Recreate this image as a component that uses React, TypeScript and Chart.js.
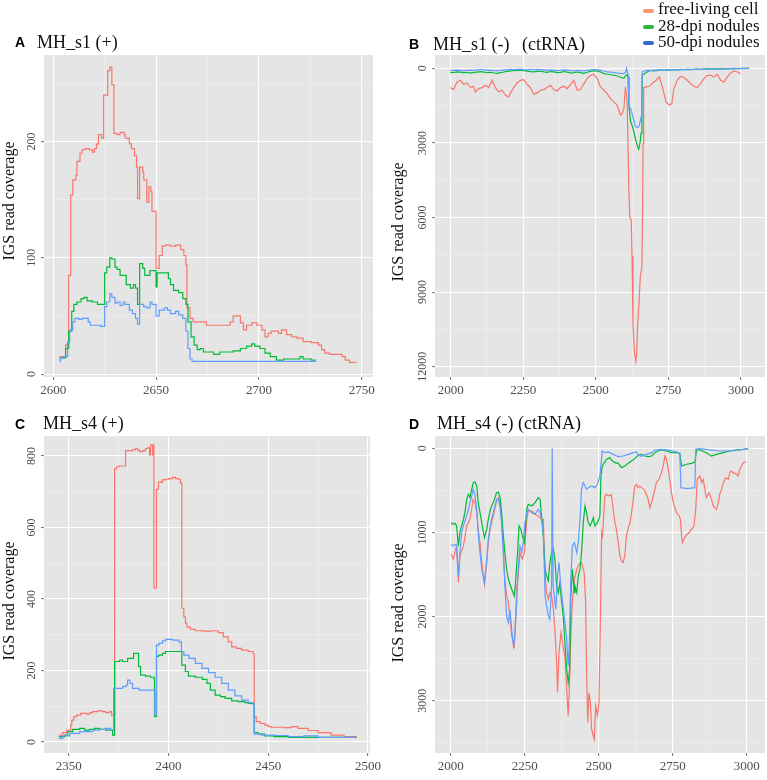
import React, { useEffect, useRef } from 'react';
import { Chart, registerables } from 'chart.js';

Chart.register(...registerables);

const SERIF = '"Liberation Serif", "Times New Roman", serif';
const SANS = '"Liberation Sans", Arial, sans-serif';

const SERIES_NAMES = ['free-living cell', '28-dpi nodules', '50-dpi nodules'];
const LINE_COLORS = ['#F8766D', '#00BA38', '#619CFF'];
const KEY_COLORS = ['#F79A6E', '#2DB83D', '#3A66D0'];
const Y_TITLE = 'IGS read coverage';

// ---------- Panel A: MH_s1 (+) ----------
const aRedPos = [2603, 2606, 2607.5, 2608.5, 2609.5, 2611, 2611.5, 2613, 2614, 2615.5, 2617.5, 2619, 2620, 2621, 2622, 2623.5, 2624.5, 2626.5, 2627.5, 2628.5, 2629.5, 2631, 2632.5, 2634.5, 2635, 2637, 2638, 2639.5, 2640.5, 2641, 2642, 2643.5, 2644, 2645.5, 2646.5, 2647.5, 2648, 2650, 2651.5, 2653, 2654.5, 2657, 2659.5, 2662, 2663.5, 2664.5, 2665, 2666.5, 2668, 2674.5, 2686, 2687.5, 2689.5, 2691, 2692.5, 2694, 2696.5, 2699, 2701.5, 2703, 2704.5, 2706, 2709.5, 2711, 2713.5, 2716, 2718.5, 2721.5, 2725.5, 2729, 2730.5, 2732, 2734.5, 2740.5, 2742, 2744, 2747.5];
const aRedCov = [15, 25, 85, 154, 167, 171, 183, 190, 193, 194, 193, 191, 194, 198, 206, 203, 240, 261, 264, 249, 207, 206, 208, 206, 203, 198, 194, 188, 178, 151, 178, 174, 167, 148, 161, 157, 140, 91, 102, 110, 111, 110, 111, 107, 102, 94, 57, 48, 45, 42, 45, 50, 50, 44, 38, 42, 44, 42, 38, 32, 35, 37, 35, 38, 34, 32, 31, 28, 27, 25, 21, 18, 17, 15, 12, 10, 10];
const aGreenPos = [2603, 2606, 2607.5, 2609, 2610, 2611.5, 2613.5, 2615, 2616.5, 2619, 2621.5, 2625, 2626, 2627.5, 2628.5, 2630, 2631, 2632.5, 2635.5, 2637.5, 2639, 2640, 2641, 2642, 2643.5, 2644.5, 2647, 2650, 2650.5, 2656, 2657, 2658.5, 2661, 2663, 2664.5, 2665.5, 2667, 2668.5, 2670, 2671.5, 2673, 2678, 2681, 2687.5, 2691, 2694, 2696.5, 2698, 2700.5, 2703, 2705.5, 2708.5, 2712, 2720, 2721.5, 2725.5, 2727.5];
const aGreenCov = [14, 22, 37, 54, 60, 62, 65, 66, 63, 62, 60, 87, 92, 100, 99, 92, 90, 85, 77, 74, 77, 74, 60, 95, 91, 85, 89, 75, 87, 82, 77, 72, 70, 65, 60, 45, 32, 25, 21, 22, 19, 17, 19, 20, 22, 24, 26, 24, 22, 18, 15, 12, 13, 15, 13, 12, 12];
const aBluePos = [2603, 2603.5, 2605, 2607, 2608, 2609.5, 2610.5, 2612.5, 2614, 2617, 2618, 2623, 2625, 2626, 2627.5, 2628.5, 2630, 2631, 2632.5, 2634, 2635, 2637, 2638.5, 2640, 2641, 2642, 2644, 2645.5, 2647, 2648, 2650, 2651.5, 2654, 2655.5, 2657, 2659.5, 2661, 2663, 2664.5, 2665.5, 2666.5, 2667.5, 2728];
const aBlueCov = [11, 14, 15, 28, 38, 45, 48, 47, 48, 45, 42, 41, 58, 62, 69, 66, 61, 62, 59, 62, 60, 55, 52, 48, 43, 60, 58, 57, 62, 60, 50, 55, 57, 55, 52, 54, 51, 48, 37, 22, 13, 11, 11];

// ---------- Panel B: MH_s1 (-) (ctRNA) ----------
const bRedPos = [1999, 2010, 2022, 2033, 2045, 2056, 2068, 2079, 2085, 2097, 2108, 2120, 2131, 2143, 2154, 2166, 2177, 2189, 2200, 2206, 2217, 2229, 2240, 2252, 2263, 2275, 2286, 2298, 2309, 2321, 2332, 2344, 2355, 2367, 2378, 2390, 2401, 2413, 2424, 2436, 2447, 2459, 2470, 2482, 2493, 2505, 2516, 2528, 2539, 2551, 2562, 2574, 2585, 2591, 2597, 2602, 2608, 2614, 2617, 2622, 2625, 2628, 2633, 2638, 2641, 2644, 2649, 2653, 2659, 2661, 2663, 2665, 2673, 2685, 2696, 2708, 2719, 2731, 2742, 2754, 2762, 2769, 2781, 2792, 2804, 2815, 2827, 2838, 2850, 2861, 2873, 2884, 2896, 2907, 2919, 2930, 2942, 2953, 2965, 2976, 2988, 2999];
const bRedCov = [776, 856, 549, 482, 642, 589, 776, 722, 950, 816, 776, 682, 776, 482, 776, 950, 883, 1083, 1150, 990, 776, 589, 482, 455, 642, 776, 1043, 990, 883, 856, 776, 682, 856, 910, 776, 722, 816, 642, 482, 883, 856, 615, 415, 281, 241, 415, 749, 883, 1017, 1217, 1351, 1485, 1886, 1819, 1618, 749, 1284, 4892, 5963, 6100, 7567, 10230, 11430, 11777, 11430, 10370, 9430, 8430, 7970, 5963, 3020, 776, 749, 722, 589, 482, 348, 816, 1351, 1485, 1418, 816, 482, 321, 375, 482, 615, 722, 776, 615, 415, 281, 281, 348, 241, 482, 549, 348, 188, 108, 148, 214];
const bGreenPos = [1999, 2010, 2022, 2033, 2045, 2056, 2068, 2079, 2091, 2103, 2114, 2126, 2137, 2149, 2160, 2172, 2183, 2195, 2206, 2218, 2229, 2241, 2252, 2264, 2275, 2287, 2298, 2310, 2321, 2333, 2344, 2356, 2367, 2379, 2390, 2402, 2413, 2425, 2436, 2448, 2459, 2471, 2482, 2494, 2505, 2517, 2528, 2540, 2551, 2563, 2574, 2586, 2597, 2603, 2608, 2611, 2614, 2620, 2625, 2631, 2636, 2644, 2648, 2653, 2656, 2659, 2660, 2665, 2677, 2688, 2700, 2711, 2723, 2734, 2746, 2757, 2769, 2780, 2792, 2803, 2815, 2826, 2838, 2849, 2861, 2872, 2884, 2895, 2907, 2918, 2930, 2941, 2953, 2964, 2976, 2987, 2999, 3010, 3028];
const bGreenCov = [175, 160, 140, 150, 185, 160, 190, 175, 150, 135, 150, 175, 160, 190, 200, 175, 150, 120, 100, 95, 80, 75, 95, 110, 130, 140, 120, 110, 140, 160, 130, 145, 175, 160, 130, 150, 190, 175, 150, 175, 200, 160, 120, 95, 110, 150, 215, 240, 260, 280, 310, 360, 400, 300, 250, 350, 1500, 2150, 2290, 2550, 2820, 3155, 3260, 2955, 2620, 1400, 280, 240, 150, 80, 100, 90, 60, 80, 60, 70, 50, 60, 40, 50, 40, 55, 45, 30, 40, 30, 25, 35, 20, 30, 15, 20, 10, 15, 5, 10, 5, 0, 0];
const bBluePos = [1999, 2010, 2022, 2033, 2045, 2056, 2068, 2079, 2091, 2103, 2114, 2126, 2137, 2149, 2160, 2172, 2183, 2195, 2206, 2218, 2229, 2241, 2252, 2264, 2275, 2287, 2298, 2310, 2321, 2333, 2344, 2356, 2367, 2379, 2390, 2402, 2413, 2425, 2436, 2448, 2459, 2471, 2482, 2494, 2505, 2517, 2528, 2540, 2551, 2563, 2574, 2586, 2597, 2603, 2606, 2609, 2612, 2614, 2620, 2625, 2631, 2636, 2644, 2648, 2653, 2656, 2659, 2660, 2670, 2680, 2690, 2700, 2720, 2740, 2760, 2780, 2800, 2830, 2860, 2890, 2920, 2950, 2980, 3000, 3028];
const bBlueCov = [90, 80, 70, 85, 100, 80, 70, 90, 60, 40, 60, 80, 70, 90, 100, 80, 60, 50, 40, 55, 40, 30, 50, 60, 45, 55, 40, 50, 65, 80, 60, 70, 90, 80, 60, 75, 90, 100, 80, 90, 100, 80, 60, 50, 60, 80, 120, 140, 150, 170, 190, 200, 210, 150, 0, 150, 300, 1550, 1620, 1820, 2090, 2330, 2380, 2350, 2150, 1950, 800, 150, 100, 80, 90, 70, 60, 70, 50, 60, 50, 40, 45, 35, 30, 25, 15, 10, 5];

// ---------- Panel C: MH_s4 (+) ----------
const cRedPos = [2345, 2347, 2349, 2351, 2351.5, 2352.5, 2354, 2356, 2359, 2360.5, 2362, 2364.5, 2367, 2368.5, 2370.5, 2371.5, 2373, 2374, 2375.5, 2378.5, 2380.5, 2382, 2383.5, 2384.5, 2385.5, 2387, 2388.5, 2389.5, 2390.5, 2391, 2392, 2392.3, 2392.7, 2394, 2395, 2396, 2397, 2398.5, 2400, 2402, 2403.5, 2405, 2406, 2406.7, 2407.7, 2408.5, 2409.3, 2411, 2413.5, 2417, 2422, 2425, 2427.5, 2430, 2431.7, 2434, 2436.7, 2440, 2442.5, 2443, 2444, 2446, 2448.3, 2450, 2451.6, 2458, 2461.5, 2465, 2470, 2475, 2481.5, 2488, 2494];
const cRedCov = [19, 26, 33, 47, 61, 71, 75, 80, 78, 82, 85, 87, 85, 82, 85, 75, 764, 770, 772, 815, 815, 817, 821, 817, 812, 815, 821, 823, 803, 831, 803, 831, 430, 707, 728, 726, 733, 735, 737, 740, 737, 735, 725, 374, 350, 332, 321, 315, 311, 310, 311, 306, 294, 280, 266, 262, 257, 253, 246, 71, 57, 52, 47, 43, 41, 40, 43, 38, 32, 26, 19, 15, 10];
const cGreenPos = [2345, 2348, 2349.5, 2352, 2355.5, 2358, 2360.5, 2363, 2365.5, 2368.5, 2371.5, 2372, 2373, 2375.5, 2377, 2379.5, 2382.5, 2385, 2386, 2388.5, 2391, 2392.7, 2393, 2394, 2395, 2397, 2398.5, 2406.7, 2408.5, 2410, 2413.5, 2417, 2419.3, 2421, 2423.4, 2426, 2428.4, 2431.7, 2435, 2438.3, 2440, 2442.5, 2443, 2445, 2448.3, 2453, 2460, 2494];
const cGreenCov = [15, 19, 29, 35, 38, 33, 35, 38, 35, 33, 33, 19, 225, 229, 225, 234, 248, 211, 187, 184, 181, 178, 71, 239, 243, 248, 253, 215, 197, 184, 181, 175, 164, 145, 131, 127, 122, 115, 113, 110, 108, 106, 26, 22, 17, 15, 13, 12];
const cBluePos = [2345, 2347, 2350.5, 2355.5, 2362, 2365.5, 2368.5, 2371, 2372.5, 2377, 2378.7, 2379.5, 2380.7, 2382, 2385.3, 2393.2, 2394, 2395.2, 2397, 2398.6, 2402, 2405.2, 2406.5, 2407.7, 2410.2, 2413.5, 2416.8, 2420.1, 2423.4, 2426.7, 2430, 2433.3, 2436.7, 2440, 2442.5, 2443, 2446.6, 2453.2, 2460, 2468, 2475, 2494];
const cBlueCov = [10, 17, 24, 29, 33, 35, 38, 33, 150, 155, 159, 173, 164, 150, 145, 75, 271, 276, 283, 287, 285, 280, 253, 243, 234, 220, 206, 194, 181, 164, 145, 129, 117, 110, 106, 22, 19, 18, 15, 17, 13, 13];

// ---------- Panel D: MH_s4 (-) (ctRNA) ----------
const dRedPos = [2001, 2009, 2015, 2020, 2026, 2031, 2037, 2043, 2048, 2054, 2065, 2071, 2076, 2082, 2088, 2093, 2099, 2105, 2114, 2122, 2127, 2133, 2138, 2144, 2150, 2155, 2161, 2167, 2172, 2178, 2183, 2189, 2195, 2200, 2206, 2215, 2223, 2228, 2234, 2242, 2249, 2257, 2262, 2274, 2285, 2296, 2307, 2313, 2319, 2324, 2330, 2335, 2341, 2347, 2352, 2358, 2361, 2366, 2373, 2381, 2386, 2392, 2397, 2401, 2406, 2411, 2418, 2426, 2433, 2442, 2451, 2456, 2459, 2463, 2467, 2472, 2476, 2482, 2485, 2490, 2496, 2501, 2505, 2510, 2513, 2521, 2527, 2536, 2543, 2549, 2555, 2560, 2566, 2572, 2577, 2583, 2588, 2594, 2600, 2605, 2611, 2617, 2622, 2628, 2633, 2639, 2645, 2653, 2659, 2667, 2673, 2679, 2684, 2690, 2695, 2704, 2712, 2718, 2724, 2729, 2735, 2740, 2746, 2752, 2763, 2772, 2776, 2780, 2783, 2788, 2794, 2799, 2806, 2814, 2822, 2828, 2833, 2842, 2847, 2853, 2859, 2864, 2873, 2881, 2887, 2892, 2898, 2904, 2909, 2915, 2921, 2930, 2938, 2943, 2949, 2954, 2960, 2966, 2971, 2977, 2983, 2988, 2994, 2999];
const dRedCov = [1260, 1319, 1220, 1161, 1596, 1280, 1220, 1161, 1062, 923, 844, 725, 606, 646, 765, 963, 1121, 1359, 1616, 1359, 1121, 963, 884, 804, 705, 626, 587, 646, 844, 1240, 1557, 1755, 1834, 1992, 2230, 2349, 1676, 1517, 1240, 1319, 1240, 844, 745, 745, 785, 804, 844, 844, 1517, 1715, 1794, 1715, 1755, 1913, 2151, 2547, 2903, 2428, 2190, 2388, 2468, 2864, 3180, 2864, 2230, 1834, 1557, 1438, 1379, 1359, 1478, 1834, 2626, 3260, 2903, 3022, 3339, 3418, 3458, 3062, 3180, 3022, 2230, 1002, 1042, 567, 547, 567, 547, 725, 884, 963, 1121, 1280, 1339, 1359, 1280, 1042, 943, 903, 765, 606, 448, 428, 468, 448, 468, 488, 527, 606, 705, 646, 567, 488, 408, 369, 290, 210, 92, 131, 250, 369, 527, 646, 765, 804, 844, 1042, 1121, 1082, 1042, 1022, 1002, 963, 923, 725, 369, 329, 408, 369, 488, 587, 527, 606, 686, 705, 725, 646, 547, 488, 408, 349, 369, 290, 270, 290, 298, 309, 329, 250, 210, 171, 163, 163];
const dGreenPos = [2001, 2009, 2015, 2020, 2026, 2031, 2037, 2043, 2048, 2054, 2060, 2065, 2071, 2076, 2082, 2088, 2093, 2105, 2114, 2122, 2127, 2133, 2138, 2144, 2150, 2155, 2161, 2167, 2172, 2178, 2183, 2189, 2195, 2206, 2215, 2219, 2226, 2231, 2237, 2242, 2249, 2257, 2262, 2274, 2285, 2296, 2302, 2307, 2313, 2319, 2324, 2330, 2335, 2341, 2347, 2352, 2358, 2364, 2369, 2375, 2381, 2386, 2392, 2397, 2402, 2406, 2411, 2418, 2420, 2426, 2431, 2437, 2442, 2448, 2454, 2459, 2465, 2471, 2476, 2482, 2487, 2496, 2504, 2508, 2510, 2515, 2527, 2538, 2543, 2555, 2566, 2577, 2588, 2600, 2611, 2622, 2633, 2645, 2656, 2667, 2679, 2690, 2701, 2712, 2729, 2746, 2763, 2774, 2780, 2797, 2814, 2825, 2831, 2842, 2864, 2881, 2898, 2921, 2943, 2966, 2988, 3005];
const dGreenCov = [884, 903, 891, 923, 1161, 1002, 923, 844, 765, 606, 547, 587, 488, 408, 400, 448, 646, 884, 1062, 963, 844, 745, 686, 646, 587, 527, 519, 587, 765, 1042, 1240, 1438, 1557, 1676, 1755, 1596, 1240, 923, 963, 1042, 1121, 725, 666, 686, 646, 587, 606, 804, 1042, 1438, 1517, 1577, 1359, 1240, 1200, 1319, 1636, 1715, 1596, 1834, 2032, 2309, 2626, 2784, 2626, 1755, 1438, 1715, 1636, 1715, 1517, 1438, 1240, 884, 686, 765, 884, 923, 884, 824, 923, 884, 804, 290, 250, 190, 131, 111, 139, 171, 179, 230, 210, 179, 151, 123, 84, 72, 92, 100, 92, 52, 32, 20, 32, 52, 52, 60, 210, 190, 179, 163, 20, 20, 52, 92, 72, 52, 32, 20, 12, 4];
const dBluePos = [2001, 2009, 2015, 2020, 2026, 2031, 2037, 2043, 2048, 2054, 2060, 2065, 2071, 2076, 2082, 2088, 2093, 2099, 2105, 2114, 2122, 2127, 2133, 2138, 2144, 2150, 2155, 2161, 2167, 2172, 2178, 2183, 2189, 2195, 2200, 2206, 2212, 2217, 2223, 2228, 2234, 2240, 2245, 2251, 2257, 2262, 2274, 2285, 2296, 2302, 2307, 2313, 2319, 2324, 2330, 2335, 2341, 2343, 2346, 2350, 2355, 2361, 2366, 2373, 2381, 2386, 2392, 2397, 2401, 2406, 2411, 2418, 2426, 2431, 2437, 2442, 2448, 2454, 2459, 2465, 2476, 2487, 2496, 2504, 2508, 2512, 2521, 2532, 2549, 2566, 2583, 2600, 2617, 2628, 2633, 2645, 2662, 2679, 2690, 2707, 2729, 2752, 2769, 2774, 2778, 2797, 2825, 2828, 2842, 2876, 2909, 2943, 2977, 3005];
const dBlueCov = [1141, 1161, 1141, 1161, 1517, 1240, 1002, 923, 864, 804, 725, 646, 567, 488, 547, 725, 1002, 1240, 1438, 1596, 1319, 1082, 943, 844, 765, 686, 606, 606, 705, 884, 1240, 1636, 1992, 2072, 1913, 2151, 2349, 2230, 1834, 1438, 1161, 1240, 1121, 884, 765, 725, 765, 785, 725, 765, 844, 1002, 1755, 1874, 1992, 2032, 1636, 0, 1636, 1755, 1913, 1517, 1359, 1676, 1913, 2072, 2270, 2586, 2309, 1557, 1161, 1121, 1240, 1121, 844, 488, 408, 448, 488, 468, 448, 468, 428, 329, 190, 32, 52, 44, 72, 100, 92, 72, 52, 44, 84, 92, 72, 52, 20, 12, 20, 32, 52, 60, 468, 480, 468, 12, 4, 20, 32, 32, 20, 4];

type Series = { pos: number[]; cov: number[] };
type PanelSpec = {
  left: number; top: number; w: number; h: number;
  padTop: number; padRight: number; yW: number; xH: number;
  xMin: number; xMax: number; xMajor: number;
  yMin: number; yMax: number; yMajor: number; reverse: boolean;
  stepped: boolean; titleX: number; titleY: number;
  series: Series[];
};

const isMajor = (v: number, m: number) => Math.abs(v / m - Math.round(v / m)) < 1e-6;

function makeTicks(min: number, max: number, step: number) {
  const out: { value: number }[] = [];
  for (let k = Math.ceil(min / step); k * step <= max + 1e-9; k++) out.push({ value: k * step });
  return out;
}

const PANELS: PanelSpec[] = [
  {
    left: 0, top: 40, w: 384, h: 370, padTop: 15, padRight: 11, yW: 44, xH: 33,
    xMin: 2595.5, xMax: 2755.5, xMajor: 50, yMin: -2.5, yMax: 274.5, yMajor: 100, reverse: false,
    stepped: true, titleX: 14, titleY: 161,
    series: [{ pos: aRedPos, cov: aRedCov }, { pos: aGreenPos, cov: aGreenCov }, { pos: aBluePos, cov: aBlueCov }],
  },
  {
    left: 384, top: 40, w: 383, h: 370, padTop: 15, padRight: 2, yW: 51, xH: 33,
    xMin: 1946, xMax: 3083, xMajor: 250, yMin: -535, yMax: 12414, yMajor: 3000, reverse: true,
    stepped: false, titleX: 19, titleY: 182,
    series: [{ pos: bRedPos, cov: bRedCov }, { pos: bGreenPos, cov: bGreenCov }, { pos: bBluePos, cov: bBlueCov }],
  },
  {
    left: 0, top: 420, w: 384, h: 360, padTop: 16, padRight: 11, yW: 44, xH: 27,
    xMin: 2337.6, xMax: 2501.1, xMajor: 50, yMin: -31, yMax: 856, yMajor: 200, reverse: false,
    stepped: true, titleX: 14, titleY: 181,
    series: [{ pos: cRedPos, cov: cRedCov }, { pos: cGreenPos, cov: cGreenCov }, { pos: cBluePos, cov: cBlueCov }],
  },
  {
    left: 384, top: 420, w: 383, h: 360, padTop: 16, padRight: 2, yW: 51, xH: 27,
    xMin: 1947, xMax: 3062, xMajor: 250, yMin: -146, yMax: 3622, yMajor: 1000, reverse: true,
    stepped: false, titleX: 19, titleY: 183,
    series: [{ pos: dRedPos, cov: dRedCov }, { pos: dGreenPos, cov: dGreenCov }, { pos: dBluePos, cov: dBlueCov }],
  },
];

const decorPlugin = {
  id: 'panelDecor',
  beforeDraw(chart: any) {
    const { ctx, chartArea: a } = chart;
    ctx.save();
    ctx.fillStyle = '#E5E5E5';
    ctx.fillRect(a.left, a.top, a.right - a.left, a.bottom - a.top);
    ctx.restore();
  },
  afterDraw(chart: any, _a: any, opts: any) {
    const { ctx, chartArea: a } = chart;
    const y = chart.scales.y;
    ctx.save();
    ctx.font = `12px ${SERIF}`;
    ctx.fillStyle = '#4D4D4D';
    ctx.textAlign = 'center';
    ctx.textBaseline = 'middle';
    for (const t of y.ticks) {
      if (!isMajor(t.value, opts.yMajor)) continue;
      const py = y.getPixelForValue(t.value);
      ctx.save();
      ctx.translate(a.left - 12, py);
      ctx.rotate(-Math.PI / 2);
      ctx.fillText(String(t.value), 0, 0);
      ctx.restore();
    }
    ctx.font = `16px ${SERIF}`;
    ctx.fillStyle = '#111111';
    ctx.textBaseline = 'alphabetic';
    ctx.translate(opts.titleX, opts.titleY);
    ctx.rotate(-Math.PI / 2);
    ctx.fillText(Y_TITLE, 0, 0);
    ctx.restore();
  },
};

function gridFor(major: number) {
  return {
    color: (c: any) => (c.tick && isMajor(c.tick.value, major) ? '#FFFFFF' : '#F2F2F2'),
    lineWidth: (c: any) => (c.tick && isMajor(c.tick.value, major) ? 1.1 : 0.5),
    tickColor: (c: any) => (c.tick && isMajor(c.tick.value, major) ? '#7F7F7F' : 'rgba(0,0,0,0)'),
    tickLength: 3,
    drawTicks: true,
  };
}

function Panel({ spec }: { spec: PanelSpec }) {
  const ref = useRef<HTMLCanvasElement | null>(null);
  useEffect(() => {
    if (!ref.current) return;
    const chart = new Chart(ref.current, {
      type: 'line',
      data: {
        datasets: spec.series.map((s, i) => ({
          label: SERIES_NAMES[i],
          data: s.pos.map((p, k) => ({ x: p, y: s.cov[k] })),
          borderColor: LINE_COLORS[i],
          borderWidth: 1.2,
          pointRadius: 0,
          fill: false,
          tension: 0,
          stepped: spec.stepped ? 'before' : false,
          order: 3 - i,
        })),
      } as any,
      options: {
        responsive: false,
        animation: false,
        devicePixelRatio: 1,
        events: [],
        layout: { padding: { top: spec.padTop, right: spec.padRight, left: 0, bottom: 0 } },
        plugins: {
          legend: { display: false },
          tooltip: { enabled: false },
          panelDecor: { yMajor: spec.yMajor, titleX: spec.titleX, titleY: spec.titleY },
        } as any,
        scales: {
          x: {
            type: 'linear',
            min: spec.xMin,
            max: spec.xMax,
            afterBuildTicks: (s: any) => { s.ticks = makeTicks(spec.xMin, spec.xMax, spec.xMajor / 2); },
            afterFit: (s: any) => { s.height = spec.xH; },
            border: { display: false },
            grid: gridFor(spec.xMajor),
            ticks: {
              autoSkip: false,
              maxRotation: 0,
              minRotation: 0,
              padding: 3,
              color: '#4D4D4D',
              font: { family: SERIF, size: 13 },
              callback: (v: any) => (isMajor(Number(v), spec.xMajor) ? String(v) : ''),
            },
          },
          y: {
            type: 'linear',
            min: spec.yMin,
            max: spec.yMax,
            reverse: spec.reverse,
            afterBuildTicks: (s: any) => { s.ticks = makeTicks(spec.yMin, spec.yMax, spec.yMajor / 2); },
            afterFit: (s: any) => { s.width = spec.yW; },
            border: { display: false },
            grid: gridFor(spec.yMajor),
            ticks: { display: false },
          },
        } as any,
      },
      plugins: [decorPlugin as any],
    });
    return () => chart.destroy();
  }, [spec]);
  return (
    <canvas
      ref={ref}
      width={spec.w}
      height={spec.h}
      style={{ position: 'absolute', left: spec.left, top: spec.top, width: spec.w, height: spec.h }}
    />
  );
}

const letterStyle = (left: number, top: number): React.CSSProperties => ({
  position: 'absolute', left, top, font: `bold 14px ${SANS}`, lineHeight: '14px', color: '#000', whiteSpace: 'pre',
});
const titleStyle = (left: number, top: number): React.CSSProperties => ({
  position: 'absolute', left, top, font: `18px ${SERIF}`, lineHeight: '18px', color: '#111', whiteSpace: 'pre',
});

export default function App() {
  return (
    <div style={{ position: 'absolute', left: 0, top: 0, width: 767, height: 780, background: '#FFFFFF', overflow: 'hidden' }}>
      {PANELS.map((p, i) => <Panel key={i} spec={p} />)}
      <div style={letterStyle(15, 35)}>A</div>
      <div style={titleStyle(37, 32.6)}>MH_s1 (+)</div>
      <div style={letterStyle(409, 36.5)}>B</div>
      <div style={titleStyle(433, 35)}>MH_s1 (-)</div>
      <div style={titleStyle(522, 35)}>(ctRNA)</div>
      <div style={letterStyle(15, 416.5)}>C</div>
      <div style={titleStyle(43, 414)}>MH_s4 (+)</div>
      <div style={letterStyle(409, 416.5)}>D</div>
      <div style={titleStyle(437, 414.3)}>MH_s4 (-) (ctRNA)</div>
      {SERIES_NAMES.map((name, i) => (
        <React.Fragment key={name}>
          <div style={{ position: 'absolute', left: 643, top: [9, 24.5, 41][i], width: 11, height: 4, borderRadius: 2, background: KEY_COLORS[i] }} />
          <div style={{ position: 'absolute', left: 658, top: [0, 16.5, 33][i], font: `17px ${SERIF}`, lineHeight: '17px', color: '#111', whiteSpace: 'pre' }}>{name}</div>
        </React.Fragment>
      ))}
    </div>
  );
}
